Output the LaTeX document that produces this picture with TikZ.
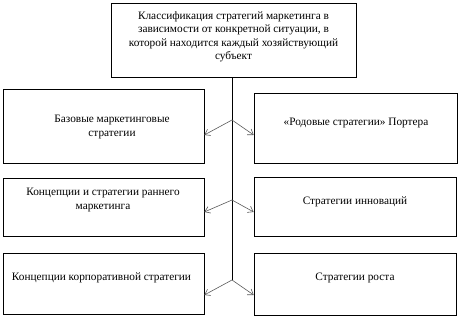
\documentclass[tikz,border=0pt]{standalone}
\usepackage{fontspec}
\setmainfont{Liberation Serif}
\usetikzlibrary{arrows.meta, positioning, calc}

\begin{document}
\begin{tikzpicture}[
  x=1pt, y=-1pt,
  every node/.style={font=\fontsize{11.3}{13.5}\selectfont, align=center},
  box/.style={draw, line width=0.6pt, inner sep=0pt},
  txt/.style={inner sep=0pt},
  arr/.style={-{Straight Barb[length=5pt, width=7pt]}, draw=black!65, line width=0.6pt},
]
  \useasboundingbox (0,0) rectangle (460,320);

  % boxes
  \node[box, minimum width=245pt, minimum height=74pt] (top) at (233.5,40) {};
  \node[box, minimum width=201pt, minimum height=74pt] (l1) at (103.5,126) {};
  \node[box, minimum width=203pt, minimum height=70pt] (r1) at (355.5,128) {};
  \node[box, minimum width=201pt, minimum height=58pt] (l2) at (103.5,207) {};
  \node[box, minimum width=202pt, minimum height=59pt] (r2) at (355,206.5) {};
  \node[box, minimum width=201pt, minimum height=61pt] (l3) at (103.5,283.5) {};
  \node[box, minimum width=202pt, minimum height=62pt] (r3) at (355,284) {};

  % texts
  \node[txt] (ttop) at (233.5,37) {Классификация стратегий маркетинга в\\
    зависимости от конкретной ситуации, в\\
    которой находится каждый хозяйствующий\\субъект};
  \node[txt] (tl1) at (112,127) {Базовые маркетинговые\\стратегии};
  \node[txt] (tr1) at (356,123) {«Родовые стратегии» Портера};
  \node[txt] (tl2) at (103,200) {Концепции и стратегии раннего\\маркетинга};
  \node[txt] (tr2) at (355,202) {Стратегии инноваций};
  \node[txt] (tl3) at (101.5,278) {Концепции корпоративной стратегии};
  \node[txt] (tr3) at (355,278) {Стратегии роста};

  % trunk and branches
  \coordinate (j1) at (232,120);
  \coordinate (j2) at (232,200);
  \coordinate (j3) at (232,280);
  \draw[line width=0.6pt] (top.south -| j1) -- (j3);

  \draw[arr] (j1) -- ([yshift=-9pt]l1.east);
  \draw[arr] (j1) -- ([yshift=-7pt]r1.west);
  \draw[arr] (j2) -- ([yshift=-5pt]l2.east);
  \draw[arr] (j2) -- ([yshift=-5.5pt]r2.west);
  \draw[arr] (j3) -- ([yshift=-11.5pt]l3.east);
  \draw[arr] (j3) -- ([yshift=-11pt]r3.west);
\end{tikzpicture}
\end{document}
